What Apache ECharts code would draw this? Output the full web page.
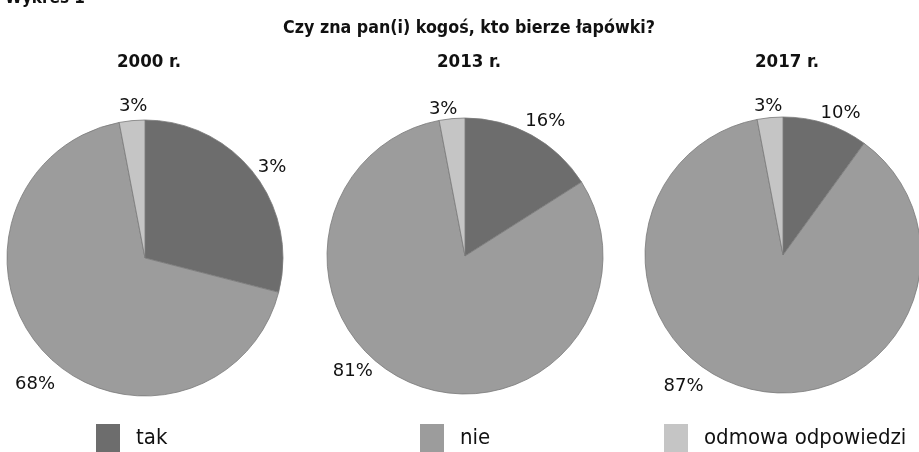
<!DOCTYPE html>
<html>
<head>
<meta charset="utf-8">
<script src="https://cdn.jsdelivr.net/npm/echarts@6/dist/echarts.min.js"></script>
<style>
  html, body { margin: 0; padding: 0; background: #fff; }
  #chart { width: 919px; height: 452px; }
</style>
</head>
<body>
<div id="chart"></div>
<script>
const categories = ['tak', 'nie', 'odmowa odpowiedzi']
const years = ['2000 r.', '2013 r.', '2017 r.']
const values2000 = [29, 68, 3]
const values2013 = [16, 81, 3]
const values2017 = [10, 87, 3]
// labels as printed in the source (2000 "tak" is printed as 3%)
const labels2000 = ['3%', '68%', '3%']
const labels2013 = ['16%', '81%', '3%']
const labels2017 = ['10%', '87%', '3%']

const colors = ['#6d6d6d', '#9c9c9c', '#c5c5c5']
const narrow = '"Liberation Sans Narrow", "DejaVu Sans Condensed", "Noto Sans", sans-serif'

const chart = echarts.init(document.getElementById('chart'))

const centers = [[145, 258], [465, 256], [783, 255]]
const allValues = [values2000, values2013, values2017]
const allLabels = [labels2000, labels2013, labels2017]
// nudges so labels sit where the printed chart has them
const labelShift = [
  [[-10, -2], [24, 28], [25, -8]],
  [[-18, -8], [-26, -17], [15, -3]],
  [[-16, -5], [-39, -9], [22, -5]]
]

const series = allValues.map((vals, i) => ({
  type: 'pie',
  center: centers[i],
  radius: 138,
  startAngle: 90,
  clockwise: true,
  silent: true,
  avoidLabelOverlap: false,
  itemStyle: { borderColor: '#7a7a7a', borderWidth: 0.8 },
  label: {
    show: true,
    position: 'outside',
    color: '#111',
    fontFamily: '"DejaVu Sans", sans-serif',
    fontSize: 18,
    formatter: (p) => allLabels[i][p.dataIndex]
  },
  labelLine: { show: false, length: 6, length2: 4 },
  labelLayout: (p) => ({ dx: labelShift[i][p.dataIndex][0], dy: labelShift[i][p.dataIndex][1] }),
  data: vals.map((v, j) => ({ name: categories[j], value: v, itemStyle: { color: colors[j] } }))
}))

const legendX = [96, 420, 664]

const option = {
  animation: false,
  title: [
    {
      text: 'Wykres 1',
      left: 0,
      top: -15,
      textStyle: { fontFamily: narrow, fontWeight: 'bold', fontSize: 17, color: '#111' }
    },
    {
      text: 'Czy zna pan(i) kogoś, kto bierze łapówki?',
      left: 464,
      top: 14,
      textAlign: 'center',
      textStyle: { fontFamily: narrow, fontWeight: 'bold', fontSize: 17.7, color: '#111' }
    }
  ].concat(years.map((y, i) => ({
    text: y,
    left: centers[i][0] - 1,
    top: 48,
    textAlign: 'center',
    textStyle: { fontFamily: narrow, fontWeight: 'bold', fontSize: 18.5, color: '#111' }
  }))),
  legend: categories.map((c, i) => ({
    data: [c],
    left: legendX[i],
    top: 424,
    padding: 0,
    itemWidth: 24,
    itemHeight: 28,
    itemGap: 10,
    selectedMode: false,
    icon: 'rect',
    itemStyle: { borderWidth: 0 },
    textStyle: { fontFamily: narrow, fontSize: 22, color: '#111', padding: [0, 0, 0, 11] }
  })),
  series: series
}

chart.setOption(option)
</script>
</body>
</html>
